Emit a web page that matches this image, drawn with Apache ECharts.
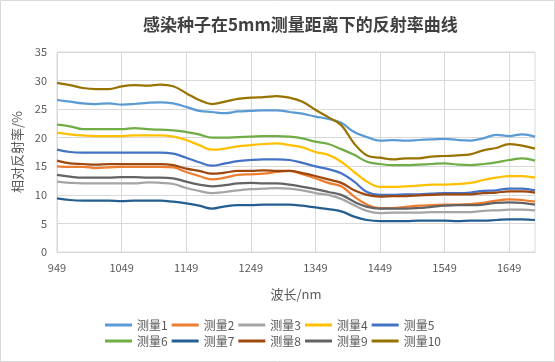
<!DOCTYPE html>
<html><head><meta charset="utf-8">
<script src="https://cdn.jsdelivr.net/npm/echarts@6/dist/echarts.min.js"></script>
<style>html,body{margin:0;padding:0;background:#fff}#c{width:555px;height:362px}</style>
</head><body><div id="c"></div>
<script>
const wavelengths = [949,969,989,1009,1029,1049,1069,1089,1109,1129,1149,1169,1189,1209,1229,1249,1269,1289,1309,1329,1349,1369,1389,1409,1429,1449,1469,1489,1509,1529,1549,1569,1589,1609,1629,1649,1669,1689];
const seriesNames = ['测量1','测量2','测量3','测量4','测量5','测量6','测量7','测量8','测量9','测量10'];
const m1 = [26.6,26.3,26.0,25.9,26.0,25.8,25.9,26.1,26.2,26.0,25.4,24.7,24.5,24.3,24.6,24.7,24.8,24.8,24.5,24.2,23.7,23.3,22.6,21.0,20.1,19.5,19.6,19.5,19.6,19.7,19.8,19.6,19.5,19.9,20.5,20.3,20.6,20.2];
const m2 = [15.0,14.9,14.9,14.7,14.8,14.9,14.9,14.9,14.9,14.8,14.0,13.3,12.7,13.0,13.5,13.6,13.7,14.0,14.2,13.6,12.9,12.1,11.5,9.7,8.3,7.7,7.7,7.9,8.1,8.2,8.3,8.3,8.4,8.6,9.0,9.2,9.1,8.8];
const m3 = [12.3,12.1,12.0,12.0,12.0,12.0,12.0,12.2,12.1,11.9,11.2,10.7,10.3,10.5,10.8,11.0,11.1,11.2,11.1,10.8,10.3,10.0,9.3,8.2,7.2,6.8,6.9,6.9,6.9,7.0,7.0,7.0,7.0,7.2,7.3,7.4,7.4,7.3];
const m4 = [20.9,20.6,20.4,20.3,20.3,20.3,20.4,20.4,20.4,20.2,19.6,18.7,17.9,18.1,18.5,18.7,18.9,19.0,18.7,18.3,17.5,17.0,15.8,14.0,12.3,11.4,11.4,11.5,11.6,11.8,11.8,11.9,12.1,12.6,13.0,13.3,13.3,13.0];
const m5 = [17.9,17.5,17.4,17.4,17.4,17.4,17.4,17.4,17.4,17.2,16.5,15.7,15.1,15.5,15.9,16.1,16.2,16.2,16.1,15.6,15.0,14.5,13.8,12.3,10.5,10.0,10.0,10.1,10.1,10.2,10.3,10.3,10.4,10.7,10.8,11.1,11.1,10.8];
const m6 = [22.3,22.0,21.5,21.5,21.5,21.5,21.7,21.5,21.4,21.3,21.0,20.6,20.0,20.0,20.1,20.2,20.3,20.3,20.2,19.9,19.3,18.9,18.0,17.0,15.8,15.4,15.2,15.2,15.3,15.4,15.5,15.3,15.2,15.4,15.7,16.1,16.4,16.0];
const m7 = [9.4,9.1,9.0,9.0,9.0,8.9,9.0,9.0,9.0,8.8,8.5,8.1,7.6,8.0,8.2,8.2,8.3,8.3,8.3,8.1,7.8,7.5,7.1,6.2,5.6,5.4,5.4,5.4,5.5,5.5,5.5,5.4,5.5,5.5,5.6,5.7,5.7,5.6];
const m8 = [16.0,15.5,15.4,15.3,15.4,15.4,15.4,15.4,15.4,15.2,14.6,14.2,13.7,13.9,14.2,14.2,14.3,14.2,14.2,13.8,13.3,12.7,12.1,10.8,10.0,9.7,9.8,9.8,9.9,10.0,10.1,10.1,10.1,10.3,10.4,10.6,10.6,10.4];
const m9 = [13.5,13.2,13.0,13.0,13.0,13.1,13.1,13.0,13.0,12.9,12.3,11.8,11.5,11.7,12.0,12.1,12.0,12.0,11.8,11.4,11.0,10.5,10.0,8.8,7.9,7.6,7.6,7.6,7.7,7.9,8.1,8.2,8.2,8.3,8.6,8.7,8.6,8.3];
const m10 = [29.6,29.2,28.7,28.5,28.5,29.0,29.2,29.1,29.3,29.0,27.8,26.6,25.9,26.3,26.8,27.0,27.1,27.3,27.0,26.3,24.9,23.6,22.2,19.0,16.9,16.5,16.2,16.4,16.4,16.7,16.8,16.9,17.1,17.8,18.2,18.9,18.6,18.1];
const yTicks = [0,5,10,15,20,25,30,35];

const allData = [m1,m2,m3,m4,m5,m6,m7,m8,m9,m10];
const colors = ['#5B9BD5','#ED7D31','#A5A5A5','#FFC000','#4472C4','#70AD47','#255E91','#9E480E','#636363','#997300'];
const font = '"Noto Sans CJK SC","Microsoft YaHei",sans-serif';

const chart = echarts.init(document.getElementById('c'), null, {renderer:'canvas'});
chart.setOption({
  animation:false,
  color:colors,
  textStyle:{fontFamily:font},
  title:{text:'感染种子在5mm测量距离下的反射率曲线', left:138, top:11,
    textStyle:{fontSize:17, fontWeight:'bold', color:'#404040', fontFamily:font}},
  grid:{left:57, right:20, top:52, bottom:110, show:true, borderColor:'#d9d9d9', borderWidth:1, containLabel:false},
  legend:{data:seriesNames, left:100, top:314, width:360, itemWidth:27, itemHeight:3, itemGap:4,
    icon:'rect', textStyle:{fontSize:12, color:'#595959', width:36, padding:[0,0,0,0]}},
  xAxis:{type:'category', data:wavelengths, boundaryGap:false,
    name:'波长/nm', nameLocation:'middle', nameGap:36,
    nameTextStyle:{fontSize:13, color:'#595959'},
    axisLine:{lineStyle:{color:'#d9d9d9'}}, axisTick:{show:false},
    axisLabel:{interval:4, color:'#595959', fontSize:11, margin:10},
    splitLine:{show:true, interval:4, lineStyle:{color:'#d9d9d9'}}},
  yAxis:{type:'value', min:yTicks[0], max:yTicks[yTicks.length-1], interval:5,
    name:'相对反射率/%', nameLocation:'middle', nameGap:28,
    nameTextStyle:{fontSize:13, color:'#595959'},
    axisLine:{show:false}, axisTick:{show:false},
    axisLabel:{color:'#595959', fontSize:11, margin:10},
    splitLine:{lineStyle:{color:'#d9d9d9'}}},
  graphic:[{type:'rect', shape:{x:0.5,y:0.5,width:554,height:361}, style:{fill:'none', stroke:'#d9d9d9', lineWidth:1}, silent:true}],
  series: seriesNames.map((n,i)=>({name:n, type:'line', data:allData[i], smooth:0.4, showSymbol:false,
    lineStyle:{width:2.25, color:colors[i]}, itemStyle:{color:colors[i]}}))
});
</script></body></html>
